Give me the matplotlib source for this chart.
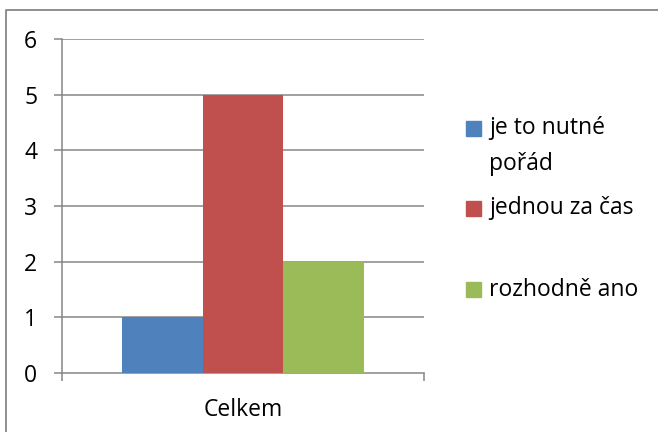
import textwrap
import matplotlib
matplotlib.use("Agg")
import matplotlib.pyplot as plt
from matplotlib.patches import Rectangle
from matplotlib.lines import Line2D

# ---- data ----
categories = ["Celkem"]
series_names = ["je to nutné pořád", "jednou za čas", "rozhodně ano"]
series_values = [1, 5, 2]
series_colors = ["#4F81BD", "#C0504D", "#9BBB59"]
y_ticks = [0, 1, 2, 3, 4, 5, 6]

W, H = 658, 432
plt.rcParams['font.family'] = ['Open Sans', 'DejaVu Sans']
GRAY = "#868686"
FS = 16.5

fig = plt.figure(figsize=(W / 100, H / 100), dpi=100)
ax = fig.add_axes([62 / W, 1 - 373 / H, (424 - 62) / W, (373 - 39) / H])

n = len(series_values)
group = 2 / 3
bw = group / n
for i, (name, v, c) in enumerate(zip(series_names, series_values, series_colors)):
    ax.bar(0 + (i - (n - 1) / 2) * bw, v, width=bw, color=c, zorder=3, label=name)

ax.set_xlim(-0.5, 0.5)
ax.set_ylim(y_ticks[0], y_ticks[-1])
ax.set_yticks(y_ticks)
ax.set_yticklabels([str(t) for t in y_ticks])
ax.set_xticks([0])
ax.set_xticklabels(categories)
ax.set_xticks([-0.5, 0.5], minor=True)

for y in y_ticks[1:]:
    ax.axhline(y, color=GRAY, lw=1.1, zorder=1)

for s in ["top", "right"]:
    ax.spines[s].set_visible(False)
for s in ["left", "bottom"]:
    ax.spines[s].set_color(GRAY)
    ax.spines[s].set_linewidth(1.1)

ax.tick_params(axis="y", direction="out", length=5.8, width=1.1, color=GRAY,
               labelsize=FS, pad=12)
ax.tick_params(axis="x", which="major", length=0, labelsize=FS, pad=18)
ax.tick_params(axis="x", which="minor", direction="out", length=5.8, width=1.1, color=GRAY)

# ---- legend (manual, Excel-like) ----
sq = 15
centers = [128.5, 208.5, 289.5]
for name, c, yc in zip(series_names, series_colors, centers):
    fig.add_artist(Rectangle((466 / W, 1 - (yc + sq / 2) / H), sq / W, sq / H,
                             transform=fig.transFigure, color=c))
    for k, line in enumerate(textwrap.wrap(name, 13)):
        fig.text(489 / W, 1 - (yc + k * 35) / H, line, fontsize=FS,
                 va="center", ha="left")

# ---- chart frame ----
fig.add_artist(Line2D([5.5 / W, 5.5 / W, 1], [0, 1 - 10 / H, 1 - 10 / H],
                      transform=fig.transFigure, color=GRAY, lw=1.3))

fig.savefig("out.png", dpi=100)
